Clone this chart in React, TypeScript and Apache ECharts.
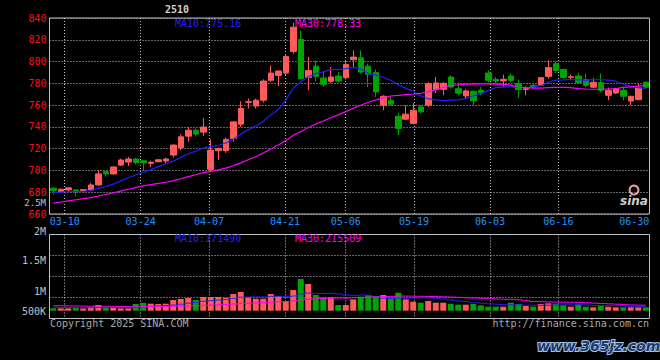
import React, { useEffect, useRef } from 'react';
import * as echarts from 'echarts';

const DATES = [
  '03-06','03-07','03-10','03-11','03-12','03-13','03-14','03-17','03-18','03-19','03-20','03-21',
  '03-24','03-25','03-26','03-27','03-28','03-31','04-01','04-02','04-03','04-07','04-08','04-09',
  '04-10','04-11','04-14','04-15','04-16','04-17','04-18','04-21','04-22','04-23','04-24','04-25',
  '04-28','04-29','04-30','05-06','05-07','05-08','05-09','05-12','05-13','05-14','05-15','05-16',
  '05-19','05-20','05-21','05-22','05-23','05-26','05-27','05-28','05-29','05-30','06-03','06-04',
  '06-05','06-06','06-09','06-10','06-11','06-12','06-13','06-16','06-17','06-18','06-19','06-20',
  '06-23','06-24','06-25','06-26','06-27','06-30','07-01','07-02'
];

const OPEN = [
  683.7,680.6,682.1,682.1,681.6,682.1,686.7,698.9,696.8,705.0,707.7,710.5,708.9,706.5,708.0,708.7,
  714.1,720.8,731.5,737.0,735.2,701.0,718.1,718.1,729.4,742.5,762.6,759.2,764.5,782.8,787.3,789.4,
  809.3,820.3,785.5,795.8,784.9,781.8,786.7,785.2,801.7,803.5,795.8,789.8,759.9,764.5,749.8,747.1,
  743.1,758.3,760.0,774.3,774.5,785.8,775.0,768.4,772.7,773.6,789.5,783.7,782.2,786.7,779.7,774.3,
  778.2,778.2,786.4,798.0,792.8,785.5,786.7,783.4,776.5,780.7,769.0,771.2,773.6,763.8,765.0,781.0
];
const CLOSE = [
  681.5,682.8,684.0,680.6,682.4,686.7,696.8,696.8,703.2,709.6,710.5,707.1,707.1,707.5,709.8,710.5,
  723.3,730.9,737.0,733.4,739.8,718.7,720.3,728.5,744.6,756.9,763.2,764.5,782.1,789.4,791.3,804.7,
  831.5,784.3,791.9,786.4,779.1,785.8,782.1,797.4,804.1,790.4,788.3,772.1,768.1,760.8,738.6,751.7,
  755.3,753.8,779.7,780.3,780.0,776.6,771.0,773.0,764.0,771.5,782.8,782.2,783.7,782.8,774.3,775.2,
  776.6,785.2,794.4,791.8,785.2,786.0,780.7,778.2,781.0,773.6,773.6,775.2,768.1,768.1,776.0,776.5
];
const LOW = [
  678.2,680.0,680.5,676.0,681.0,681.7,686.0,694.3,696.2,704.1,704.1,705.6,700.4,703.4,707.5,706.5,
  712.0,718.7,726.3,730.9,731.5,699.0,709.6,716.2,726.3,740.0,756.9,756.9,762.4,781.2,777.5,787.3,
  807.2,783.7,773.6,781.8,776.6,780.3,781.2,783.4,794.9,788.9,776.6,767.5,755.3,759.9,732.4,746.2,
  742.5,752.3,758.3,771.0,769.0,775.0,769.0,766.0,759.0,769.0,781.0,779.7,777.0,781.0,766.6,769.0,
  775.5,777.6,784.3,789.4,784.3,783.4,779.7,776.6,775.5,771.7,764.5,770.3,764.5,759.9,764.5,776.0
];
const HIGH = [
  684.2,683.2,684.5,682.5,683.0,688.3,699.8,699.5,703.8,710.8,712.3,711.7,709.4,708.9,710.3,711.7,
  723.9,733.1,740.0,738.8,748.3,728.5,720.8,730.0,745.2,763.5,766.0,766.0,783.7,796.5,791.9,806.3,
  835.6,828.5,804.1,800.8,791.0,794.9,790.4,801.7,810.2,810.2,798.0,792.6,769.0,767.5,752.8,759.9,
  762.0,759.9,781.0,786.0,781.0,787.3,781.0,774.5,773.5,776.6,792.0,785.8,788.0,789.0,783.4,777.3,
  779.5,785.8,801.0,800.0,793.5,787.8,789.8,789.0,785.0,789.0,776.0,775.8,776.0,768.5,779.7,781.5
];
const VOLUME = [
  98000,98000,98000,126000,98000,154000,238000,140000,140000,98000,
  98000,280000,322000,294000,280000,294000,448000,490000,532000,448000,
  574000,574000,574000,546000,700000,784000,560000,504000,504000,700000,
  616000,392000,868000,1330000,1120000,658000,560000,560000,238000,238000,
  476000,588000,658000,616000,658000,560000,756000,476000,378000,336000,
  406000,336000,336000,294000,252000,252000,280000,224000,168000,168000,
  168000,336000,280000,196000,168000,280000,308000,294000,224000,168000,
  266000,168000,140000,210000,168000,140000,140000,140000,140000,140000
];
// closes and volumes of the 29 sessions before the window (needed for the moving averages)
const PRE_CLOSE = [
  650,652,651,654,655,653,657,658,660,659,661,663,
  672,676,678,677,680,679,681,683,
  682,680,679,681,678,677,680,681,680
];
const PRE_VOLUME = [
  260000,230000,250000,280000,240000,220000,260000,250000,230000,270000,
  240000,250000,230000,260000,240000,220000,250000,240000,260000,220000,
  150000,140000,160000,130000,150000,140000,150000,140000,145000
];

const DATE_LABELS = ['03-10','03-24','04-07','04-21','05-06','05-19','06-03','06-16','06-30'];
const GRID_DATES = ['03-10','03-24','04-07','04-21','05-06','05-19','06-03','06-16'];
const VOL_TICK_LABELS = ['2M', '1.5M', '1M', '500K'];
const STRAY_LABEL = '2.5M';
const TITLE = '2510';
const PRICE_MA_TEXT = ['MA10:775.16', 'MA30:778.33'];
const VOL_MA_TEXT = ['MA10:171490', 'MA30:215509'];
const COPYRIGHT = 'Copyright 2025 SINA.COM';
const SITE = 'http://finance.sina.com.cn';
const WATERMARK = 'www.365jz.com';

const RED = '#ff5b5b';
const GREEN = '#00a400';
const BLUE = '#2020ff';
const MAGENTA = '#ff00ff';
const GRIDC = '#c8c8c8';
const MONO = '"DejaVu Sans Mono", monospace';

function movingAverage(pre: number[], vals: number[], n: number) {
  const all = pre.concat(vals);
  return vals.map((_, i) => {
    const end = pre.length + i + 1;
    let s = 0;
    for (let k = end - n; k < end; k++) s += all[k];
    return +(s / n).toFixed(2);
  });
}

function txt(x: number, y: number, text: string, fill: string, align = 'left', font = `10px ${MONO}`) {
  return {
    type: 'text', x, y, silent: true,
    style: { text, fill, font, align, verticalAlign: 'middle', textAlign: align, textVerticalAlign: 'middle' }
  };
}

export default function App() {
  const ref = useRef<HTMLDivElement>(null);
  useEffect(() => {
    if (!ref.current) return;
    const chart = echarts.init(ref.current, null, { renderer: 'svg' });
    const candles = DATES.map((_, i) => [OPEN[i], CLOSE[i], LOW[i], HIGH[i]]);
    const vols = VOLUME.map((v, i) => ({ value: v, itemStyle: { color: CLOSE[i] >= OPEN[i] ? RED : GREEN } }));
    const dotted = { color: GRIDC, width: 1, type: [1, 2] as any };
    const volLabelY = [231, 260, 291, 311];

    const graphic: any[] = [
      txt(177, 9, TITLE, '#cfcfcf', 'center', `bold 10px ${MONO}`),
      txt(175, 23.5, PRICE_MA_TEXT[0], BLUE),
      txt(295, 23.5, PRICE_MA_TEXT[1], MAGENTA),
      txt(175, 238, VOL_MA_TEXT[0], BLUE),
      txt(295, 238, VOL_MA_TEXT[1], MAGENTA),
      txt(46, 203, STRAY_LABEL, '#c0c0c0', 'right', `9px ${MONO}`),
      ...VOL_TICK_LABELS.map((t, i) => txt(46, volLabelY[i], t, '#c0c0c0', 'right')),
      txt(50, 323.5, COPYRIGHT, '#a8a8a8'),
      txt(649, 323.5, SITE, '#a8a8a8', 'right'),
      {
        type: 'circle', silent: true, shape: { cx: 634, cy: 190, r: 4.5 },
        style: { fill: 'none', stroke: '#f0a0a0', lineWidth: 2 }
      },
      txt(634, 201, 'sina', '#cfcfcf', 'center', 'italic bold 12px "DejaVu Sans", sans-serif'),
      {
        type: 'text', x: 537, y: 346, silent: true,
        style: {
          text: WATERMARK, fill: '#1d3b6a', stroke: '#a9c2e6', lineWidth: 2,
          font: 'italic bold 14px "DejaVu Sans", sans-serif',
          align: 'left', verticalAlign: 'middle', textAlign: 'left', textVerticalAlign: 'middle'
        }
      }
    ];

    chart.setOption({
      animation: false,
      backgroundColor: '#000000',
      grid: [
        { left: 49.5, width: 600, top: 18, height: 196, show: true, borderColor: '#bdbdbd', borderWidth: 1 },
        { left: 49.5, width: 600, top: 234.5, height: 84, show: true, borderColor: '#bdbdbd', borderWidth: 1 }
      ],
      xAxis: [
        { type: 'category', gridIndex: 0, position: 'bottom', data: DATES, boundaryGap: true, show: false },
        {
          type: 'category', gridIndex: 0, position: 'bottom', data: DATES, boundaryGap: false,
          axisLine: { show: false }, axisTick: { show: false },
          axisLabel: {
            color: '#2090ff', fontFamily: MONO, fontSize: 10, margin: 2,
            interval: (_i: number, v: string) => DATE_LABELS.includes(v)
          },
          splitLine: { show: true, lineStyle: dotted, interval: (_i: number, v: string) => GRID_DATES.includes(v) }
        },
        { type: 'category', gridIndex: 1, position: 'bottom', data: DATES, boundaryGap: true, show: false },
        {
          type: 'category', gridIndex: 1, position: 'bottom', data: DATES, boundaryGap: false,
          axisLine: { show: false }, axisTick: { show: false }, axisLabel: { show: false },
          splitLine: { show: true, lineStyle: dotted, interval: (_i: number, v: string) => GRID_DATES.includes(v) }
        }
      ],
      yAxis: [
        {
          type: 'value', gridIndex: 0, min: 660, max: 840, interval: 20,
          axisLine: { show: false }, axisTick: { show: false },
          axisLabel: { color: '#ff1010', fontFamily: MONO, fontSize: 10, margin: 3 },
          splitLine: { show: true, lineStyle: dotted }
        },
        {
          type: 'value', gridIndex: 1, min: 0, max: 4, interval: 1,
          axisLine: { show: false }, axisTick: { show: false }, axisLabel: { show: false },
          splitLine: { show: true, lineStyle: dotted }
        },
        { type: 'value', gridIndex: 1, min: -328000, max: 3200000, show: false, splitLine: { show: false } }
      ],
      graphic,
      series: [
        {
          type: 'candlestick', xAxisIndex: 0, yAxisIndex: 0, data: candles, barWidth: 6,
          itemStyle: { color: RED, color0: GREEN, borderColor: RED, borderColor0: GREEN, borderWidth: 1 }
        },
        {
          type: 'line', xAxisIndex: 0, yAxisIndex: 0, data: movingAverage(PRE_CLOSE, CLOSE, 10),
          symbol: 'none', lineStyle: { color: BLUE, width: 1.2 }
        },
        {
          type: 'line', xAxisIndex: 0, yAxisIndex: 0, data: movingAverage(PRE_CLOSE, CLOSE, 30),
          symbol: 'none', lineStyle: { color: MAGENTA, width: 1.2 }
        },
        { type: 'bar', xAxisIndex: 2, yAxisIndex: 2, data: vols, barWidth: 6 },
        {
          type: 'line', xAxisIndex: 2, yAxisIndex: 2, data: movingAverage(PRE_VOLUME, VOLUME, 10),
          symbol: 'none', step: 'middle', lineStyle: { color: BLUE, width: 1 }
        },
        {
          type: 'line', xAxisIndex: 2, yAxisIndex: 2, data: movingAverage(PRE_VOLUME, VOLUME, 30),
          symbol: 'none', step: 'middle', lineStyle: { color: MAGENTA, width: 1 }
        }
      ]
    });
    return () => chart.dispose();
  }, []);
  return <div ref={ref} style={{ position: 'fixed', left: 0, top: 0, width: 660, height: 360 }} />;
}
